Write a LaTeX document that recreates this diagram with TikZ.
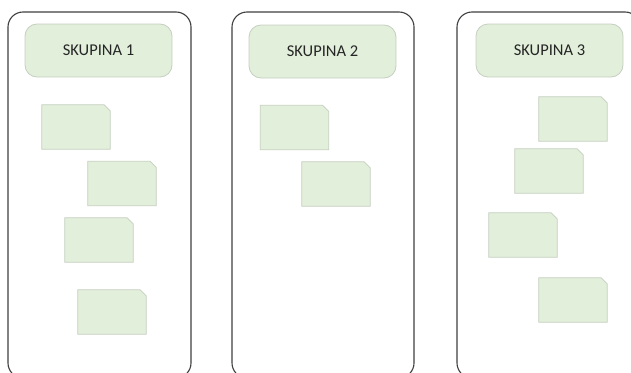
\documentclass[tikz,border=0pt]{standalone}
\usepackage{fontspec}
\setmainfont{Carlito}
\definecolor{cardfill}{HTML}{E2EFDA}
\definecolor{cardline}{HTML}{C5CFC0}
\definecolor{panelline}{HTML}{3F3F3F}
\tikzset{
  panel/.style={draw=panelline, line width=1.1pt, rounded corners=15pt},
  header/.style={fill=cardfill, draw=cardline, line width=0.8pt, rounded corners=12pt,
    minimum width=147pt, minimum height=53pt, inner sep=0pt,
    font=\fontsize{16.5}{18}\selectfont, text=black!85},
  cardarea/.style={minimum width=68pt, minimum height=44pt, inner sep=0pt},
  cardbody/.style={fill=cardfill, draw=cardline, line width=0.8pt, line join=miter}
}
% a card: an invisible named node plus its outline with a clipped top-right corner
\newcommand\groupcard[2]{%
  \node[cardarea] (#1) at (#2) {};
  \draw[cardbody] (#1.south west) -- (#1.north west)
    -- ([xshift=-6pt]#1.north east) -- ([yshift=-6pt]#1.north east)
    -- (#1.south east) -- cycle;
}
\begin{document}
\begin{tikzpicture}[x=1pt, y=-1pt]
  \useasboundingbox (0,0) rectangle (631,372);
  \clip (0,0) rectangle (631,372);
  % the three group columns
  \draw[panel] (8,12) rectangle (191,378);
  \draw[panel] (232,12) rectangle (414,378);
  \draw[panel] (457,12) rectangle (640,378);
  % group headers
  \node[header] (h1) at (98.5,50.5) {SKUPINA 1};
  \node[header] (h2) at (322.5,51.5) {SKUPINA 2};
  \node[header] (h3) at (549.5,50.5) {SKUPINA 3};
  % cards in group 1
  \groupcard{a1}{76,127}
  \groupcard{a2}{122,183.5}
  \groupcard{a3}{99,240}
  \groupcard{a4}{112,312}
  % cards in group 2
  \groupcard{b1}{294.5,127.5}
  \groupcard{b2}{336,184}
  % cards in group 3
  \groupcard{c1}{573,119}
  \groupcard{c2}{549,171}
  \groupcard{c3}{523,235}
  \groupcard{c4}{573,300}
\end{tikzpicture}
\end{document}
